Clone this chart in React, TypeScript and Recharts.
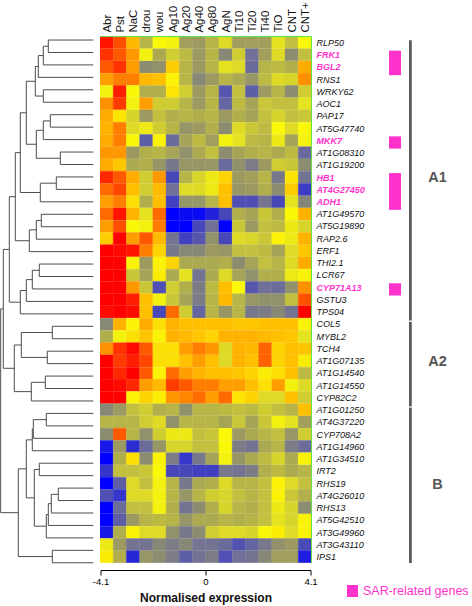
import React from "react";
import {
  Bar,
  BarChart,
  Cell,
  ComposedChart,
  ReferenceArea,
  Scatter,
  ScatterChart,
  XAxis,
  YAxis,
} from "recharts";

const conditions = ["Abr", "Pst", "NaC", "drou", "wou", "Ag10", "Ag20", "Ag40", "Ag80", "AgN", "Ti10", "Ti20", "Ti40", "TiO", "CNT", "CNT+"];

const genesA1 = ["RLP50", "FRK1", "BGL2", "RNS1", "WRKY62", "AOC1", "PAP17", "AT5G47740", "MKK7", "AT1G08310", "AT1G19200", "HB1", "AT4G27450", "ADH1", "AT1G49570", "AT5G19890", "RAP2.6", "ERF1", "THI2.1", "LCR67", "CYP71A13", "GSTU3", "TPS04"];
const genesA2 = ["COL5", "MYBL2", "TCH4", "AT1G07135", "AT1G14540", "AT1G14550", "CYP82C2"];
const genesB = ["AT1G01250", "AT4G37220", "CYP708A2", "AT1G14960", "AT1G34510", "IRT2", "RHS19", "AT4G26010", "RHS13", "AT5G42510", "AT3G49960", "AT3G43110", "IPS1"];

const sarGenes = ["FRK1", "BGL2", "MKK7", "HB1", "AT4G27450", "ADH1", "CYP71A13"];
const clusterNames = ["A1", "A2", "B"];

// normalised expression, one row per gene, columns follow `conditions`
const valuesA1 = [
  [3.9, 3.3, 2.0, 0.0, 1.0, 0.9, -0.4, -0.5, 0.0, 0.6, -0.4, -0.4, -0.4, 0.7, 0.2, 1.0],
  [3.6, 3.2, 2.5, 0.9, -0.2, 0.4, 0.1, -0.5, 0.0, -0.9, 0.4, -1.5, -0.4, 0.6, -0.8, 0.2],
  [3.2, 3.6, 2.4, -0.8, -0.7, 1.7, 0.0, -0.5, 0.0, 0.7, 0.6, -1.6, 0.0, 0.1, -0.1, 2.2],
  [2.4, 2.8, 2.8, 2.0, 1.9, 1.1, 0.0, -0.9, -0.5, 0.0, -0.2, -0.6, 0.1, 0.6, 0.5, 2.6],
  [0.9, 3.8, 1.0, -0.1, -0.1, 1.3, 0.4, -0.5, 0.0, -2.2, 0.2, -2.0, -0.5, 0.0, -0.8, 0.4],
  [2.6, 3.5, 0.9, 2.4, 0.4, 0.4, 0.0, -0.5, 0.0, -1.8, 0.1, -0.3, 0.3, 0.2, 0.2, 0.7],
  [2.2, 1.3, 0.5, -0.5, 0.2, -0.1, 0.0, -0.1, 0.0, -0.5, -0.1, -0.3, 0.2, 0.5, 0.2, 0.3],
  [2.1, 2.8, 0.6, 0.8, 0.4, 0.0, -0.6, -0.5, -0.1, -0.8, 0.6, 0.3, 0.1, 1.0, 0.6, 1.0],
  [2.2, 2.8, 1.0, -2.0, 1.1, -1.6, -0.3, 0.1, -0.4, 0.9, 0.7, 0.1, 0.0, 0.8, -0.3, 0.9],
  [2.5, 2.5, -0.5, -0.1, 0.0, -0.3, -0.7, -0.2, 0.2, -0.8, -0.3, -0.1, 0.0, -0.2, 0.1, -1.7],
  [2.2, 1.8, -0.2, -0.1, -0.6, -1.3, -0.6, -0.6, -0.6, -1.7, -0.7, -1.2, -0.5, 0.4, 0.3, -0.8],
  [3.7, 3.2, 2.2, 0.4, 2.5, -2.6, 0.0, 0.5, 0.8, 1.6, -0.5, -0.4, 0.0, -1.3, 1.3, -1.4],
  [3.0, 3.4, 1.9, 0.4, 2.0, -1.5, 0.6, 0.6, 0.8, 1.9, -0.6, -0.5, -0.1, -0.8, 1.7, -2.9],
  [2.4, 2.8, 1.4, -0.1, 1.9, -2.8, -0.6, -0.6, 0.0, 1.9, -2.4, -2.4, -1.4, -2.6, 0.7, -1.0],
  [3.0, 3.9, 2.1, 0.7, 3.0, -4.1, -3.9, -3.9, -3.4, -2.6, -0.1, -0.3, 0.3, -0.1, 1.0, 2.1],
  [2.4, 3.3, 1.0, 0.9, 2.8, -4.1, -4.1, -2.6, -1.5, -4.1, 0.3, -0.5, 0.2, 0.1, 0.8, 0.5],
  [1.7, 4.1, 2.4, 3.2, 2.0, -1.4, -2.8, -2.2, -0.7, -2.6, 0.6, 0.5, 0.3, 1.1, 0.8, 2.1],
  [4.1, 4.0, 3.9, 2.8, 1.6, -1.3, -0.9, -0.9, -0.5, -0.6, 0.2, 0.2, 0.1, -0.3, 0.6, 1.8],
  [4.1, 4.1, 1.1, -0.5, 1.1, 1.6, -0.2, -0.2, -0.2, -0.1, -0.8, -0.3, 0.2, 0.0, 0.6, 2.2],
  [4.1, 4.1, 0.3, -0.3, 1.2, -0.2, 0.7, -1.4, -0.2, 0.6, -0.3, -0.7, -0.1, -0.1, 0.8, 1.1],
  [4.1, 4.1, 2.5, 0.3, -2.4, 0.4, -0.1, -1.2, 0.1, 1.9, 1.0, -2.2, -1.5, -1.6, -0.7, 2.6],
  [4.1, 4.1, 3.8, 1.9, 0.9, 0.3, -0.3, -1.2, 0.0, 2.0, 0.0, -0.6, -0.7, -0.7, 0.2, 3.3],
  [4.0, 4.1, 4.0, 1.9, -2.6, 3.0, 0.4, -1.8, 0.0, -0.6, 0.0, -1.3, -1.2, -0.9, -1.4, 4.1],
];
const valuesA2 = [
  [-0.9, 2.1, 1.1, 2.2, 1.4, 2.1, 1.9, 1.9, 1.9, 1.9, 1.8, 1.8, 1.9, 1.9, 1.9, 1.1],
  [-0.1, 0.9, 1.4, 1.8, 1.1, 2.1, 2.0, 1.8, 1.6, 2.1, 2.1, 2.1, 2.0, 1.9, 1.8, 0.7],
  [2.6, 3.6, 4.0, 3.2, 1.4, 1.4, 2.4, 2.8, 2.5, 0.6, 2.1, 2.0, 3.1, 1.6, 1.9, 1.8],
  [4.1, 3.5, 3.8, 3.4, 1.4, 1.4, 1.9, 2.4, 1.9, 0.6, 2.1, 1.9, 3.1, 1.6, 1.9, 1.2],
  [4.1, 3.7, 4.1, 3.2, 1.1, 3.0, 2.4, 2.1, 1.9, 1.9, 1.8, 1.6, 1.2, 1.4, 1.9, 0.1],
  [4.1, 4.0, 3.7, 2.4, 2.0, 3.5, 3.2, 2.8, 2.8, 2.4, 2.4, 1.9, 1.4, 2.4, 0.9, 0.6],
  [4.1, 4.1, 1.1, 1.6, 1.2, 2.5, 2.7, 3.0, 2.4, 3.0, 1.3, 1.6, 0.6, 0.6, 1.9, 0.4],
];
const valuesB = [
  [-0.9, -0.5, 0.2, 0.4, -0.1, 0.0, -0.7, 0.0, 0.0, 0.1, 0.2, 0.1, 0.4, 0.2, 0.0, 1.9],
  [0.0, 0.0, 0.0, 0.4, 0.6, -0.7, 0.0, 0.0, 0.0, -0.3, 0.3, -0.3, 0.3, 0.9, 0.7, -0.4],
  [-0.8, 3.2, 0.0, -0.7, 0.4, 0.8, 0.8, 0.2, 0.3, 1.0, -0.5, -0.2, 0.0, 0.2, -0.6, 0.4],
  [-3.6, -0.5, -3.2, -1.6, -0.6, 0.5, 0.5, 0.2, 0.2, 1.0, -1.2, -1.4, -0.2, 0.0, -1.2, -1.6],
  [-4.1, -0.1, 1.4, -0.8, 1.1, -1.2, -3.0, -1.3, -0.3, 0.9, -0.6, -0.2, 0.1, 0.5, -0.2, 1.1],
  [-3.0, 0.2, 0.2, 0.3, 1.0, -2.6, -2.6, -2.8, -2.8, -1.3, -1.4, -1.2, -0.1, 0.1, -0.2, 0.0],
  [-4.1, -2.0, 0.6, 0.2, 0.9, 0.0, -1.3, -0.2, -0.1, 0.6, 0.0, 0.0, 0.2, 1.1, 0.6, 0.2],
  [-2.4, -3.0, 0.6, 0.6, 0.9, 0.0, -0.6, 0.0, 0.4, 0.5, 0.2, 0.0, 0.2, 1.1, 0.3, -0.1],
  [-4.1, -1.6, 0.2, 0.2, 0.9, -0.1, -1.4, -0.8, -0.1, 0.5, 0.0, -0.1, 0.2, 0.8, 0.5, -0.8],
  [-4.1, -2.0, -0.5, 0.0, 0.1, 0.0, -0.6, -0.2, -0.2, 0.0, -0.1, 0.0, 0.2, 0.7, 0.5, 1.1],
  [-3.6, -0.1, 1.1, 0.6, 0.6, -0.7, -1.3, -0.8, 0.4, 0.6, 0.6, 0.5, 1.0, 1.2, 0.6, 1.1],
  [0.8, -0.5, -1.4, -1.4, -0.9, -1.2, -0.9, -1.4, -1.4, -1.6, -2.3, -1.8, -1.3, -0.7, -0.5, -2.5],
  [1.2, -0.1, -3.3, -0.6, -0.8, -1.2, -2.0, -1.4, -1.2, -2.4, -1.5, -1.4, -0.9, -0.4, -0.4, -3.5],
];

// dendrogram merges: [child, child, height]; leaves are rows 0-42, merge k becomes node 43+k
const merges: [number, number, number][] = [
  [0, 1, 45], [43, 2, 50], [44, 3, 55], [4, 5, 50], [45, 46, 58],
  [6, 7, 43], [48, 8, 50], [9, 10, 33], [49, 50, 57], [47, 51, 67],
  [11, 12, 37], [53, 13, 53], [52, 54, 73], [14, 15, 52], [56, 16, 57],
  [57, 17, 64], [55, 58, 78], [18, 19, 54], [60, 20, 61], [61, 21, 67],
  [62, 22, 73], [59, 63, 84], [23, 24, 41], [25, 26, 46], [65, 66, 72],
  [27, 28, 48], [68, 29, 62], [67, 69, 79], [64, 70, 90], [30, 31, 47],
  [72, 32, 60], [73, 33, 61], [34, 35, 54], [36, 37, 35], [76, 38, 42],
  [77, 39, 45], [78, 40, 47], [75, 79, 59], [74, 80, 67], [41, 42, 41],
  [81, 82, 75], [71, 83, 92.6],
];

const scaleTicks = [-4.1, 0, 4.1];

const FONT = '"Liberation Sans", Arial, Helvetica, sans-serif';
const MAGENTA = "#FF33CC";
const GREEN = "#66E044";

const colorStops: [number, number[]][] = [
  [-4.1, [0, 0, 255]],
  [-2.8, [64, 64, 192]],
  [-1.5, [112, 112, 152]],
  [-0.8, [140, 140, 112]],
  [-0.3, [166, 164, 86]],
  [0.2, [194, 192, 62]],
  [0.6, [222, 218, 38]],
  [1.0, [250, 248, 8]],
  [1.9, [255, 192, 0]],
  [2.6, [255, 144, 0]],
  [3.3, [255, 80, 0]],
  [4.1, [255, 0, 0]],
];

function colorFor(v: number) {
  if (v <= colorStops[0][0]) return `rgb(${colorStops[0][1].join(",")})`;
  for (let i = 1; i < colorStops.length; i++) {
    const [v1, c1] = colorStops[i];
    const [v0, c0] = colorStops[i - 1];
    if (v <= v1) {
      const t = (v - v0) / (v1 - v0);
      const c = c0.map((a, k) => Math.round(a + (c1[k] - a) * t));
      return `rgb(${c.join(",")})`;
    }
  }
  return "rgb(255,0,0)";
}

const genes = [...genesA1, ...genesA2, ...genesB];
const values = [...valuesA1, ...valuesA2, ...valuesB];

const heatRows = genes.map((gene, i) => {
  const row: Record<string, string | number> = { gene };
  values[i].forEach((_, j) => (row[`c${j}`] = 1));
  return row;
});
const colTicks = conditions.map((_, j) => j + 0.5);

// dendrogram elbows
const nodePos = genes.map((_, i) => ({ h: 0, y: i }));
const elbows = merges.map(([a, b, h]) => {
  const A = nodePos[a];
  const B = nodePos[b];
  nodePos.push({ h, y: (A.y + B.y) / 2 });
  return [
    { x: A.h, y: A.y },
    { x: h, y: A.y },
    { x: h, y: B.y },
    { x: B.h, y: B.y },
  ];
});

// cluster ranges and SAR runs
const clusterSizes = [genesA1.length, genesA2.length, genesB.length];
const clusters = clusterNames.map((name, k) => {
  const first = clusterSizes.slice(0, k).reduce((s, n) => s + n, 0);
  const last = first + clusterSizes[k] - 1;
  return { name, first, last, x: 57.5, y: (first + last) / 2 };
});
const sarRuns: { first: number; last: number }[] = [];
genes.forEach((g, i) => {
  if (!sarGenes.includes(g)) return;
  const prev = sarRuns[sarRuns.length - 1];
  if (prev && prev.last === i - 1) prev.last = i;
  else sarRuns.push({ first: i, last: i });
});

const none = () => <g />;

function ColumnTick(props: any) {
  const { x, y, payload } = props;
  return (
    <text transform={`translate(${x + 4},${y}) rotate(-90)`} textAnchor="start" fontSize={11.5} fontFamily={FONT} fill="#111">
      {conditions[Math.floor(payload.value)]}
    </text>
  );
}

function GeneTick(props: any) {
  const { x, y, payload } = props;
  const sar = sarGenes.includes(payload.value);
  return (
    <text x={x} y={y} dy="0.35em" textAnchor="start" fontSize={9} fontStyle="italic" fontWeight={sar ? "bold" : "normal"} fontFamily={FONT} fill={sar ? MAGENTA : "#111"}>
      {payload.value}
    </text>
  );
}

export default function App() {
  return (
    <div style={{ position: "absolute", left: 0, top: 0, width: 472, height: 606, background: "#fff", fontFamily: FONT }}>
      {/* dendrogram */}
      <div style={{ position: "absolute", left: 0, top: 0 }}>
        <ScatterChart width={94} height={569} margin={{ top: 33.8, right: 0.7, bottom: 0, left: 0.7 }}>
          <XAxis type="number" dataKey="x" domain={[0, 92.6]} reversed hide />
          <YAxis type="number" dataKey="y" domain={[-0.5, 42.5]} reversed hide />
          {elbows.map((pts, k) => (
            <Scatter key={k} data={pts} line={{ stroke: "#4d4d4d", strokeWidth: 1 }} stroke="#4d4d4d" shape={none} isAnimationActive={false} legendType="none" />
          ))}
        </ScatterChart>
      </div>

      {/* heatmap */}
      <div style={{ position: "absolute", left: 100, top: 0 }}>
        <BarChart layout="vertical" width={300} height={563} data={heatRows} margin={{ top: 0, right: 0, bottom: 0, left: 0 }} barCategoryGap={0} barGap={0}>
          {conditions.map((c, j) => (
            <Bar key={c} dataKey={`c${j}`} stackId="hm" isAnimationActive={false}>
              {genes.map((g, i) => {
                const fill = colorFor(values[i][j]);
                return <Cell key={g} fill={fill} stroke={fill} strokeWidth={0.4} />;
              })}
            </Bar>
          ))}
          <XAxis type="number" orientation="top" domain={[0, 16]} ticks={colTicks} interval={0} height={36.6} tickSize={0} tickMargin={4} axisLine={{ stroke: GREEN }} tick={(p: any) => <ColumnTick {...p} />} />
          <YAxis type="category" dataKey="gene" orientation="right" width={88.5} interval={0} tickSize={0} tickMargin={5} axisLine={{ stroke: GREEN }} tick={(p: any) => <GeneTick {...p} />} />
        </BarChart>
      </div>

      {/* SAR markers and cluster bars */}
      <div style={{ position: "absolute", left: 380, top: 0 }}>
        <ScatterChart width={92} height={563} margin={{ top: 36.6, right: 0, bottom: 0, left: 0 }}>
          <XAxis type="number" dataKey="x" domain={[0, 92]} hide />
          <YAxis type="number" dataKey="y" domain={[-0.5, 42.5]} reversed hide />
          {sarRuns.map((r) => (
            <ReferenceArea key={r.first} x1={9} x2={21} y1={r.first - 0.5 + 0.15} y2={r.last + 0.5 + 0.15} fill={MAGENTA} fillOpacity={1} stroke="none" ifOverflow="visible" />
          ))}
          {clusters.map((c) => (
            <ReferenceArea key={c.name} x1={29} x2={31.8} y1={c.first - 0.5 + 0.3} y2={c.last + 0.5 + 0.2} fill="#5c5c5c" fillOpacity={1} stroke="none" ifOverflow="visible" />
          ))}
          <Scatter
            data={clusters}
            isAnimationActive={false}
            shape={(p: any) => (
              <text x={p.cx} y={p.cy} dy="0.35em" textAnchor="middle" fontSize={14.5} fontWeight="bold" fontFamily={FONT} fill="#555">
                {p.payload.name}
              </text>
            )}
          />
        </ScatterChart>
      </div>

      {/* colour scale */}
      <div style={{ position: "absolute", left: 80, top: 564 }}>
        <ComposedChart width={252} height={42} data={scaleTicks.map((v) => ({ v }))} margin={{ top: 3, right: 21, bottom: 0, left: 21 }}>
          <defs>
            <linearGradient id="exprScale" x1="0" y1="0" x2="1" y2="0">
              {colorStops.map(([v, c]) => (
                <stop key={v} offset={(v + 4.1) / 8.2} stopColor={`rgb(${c.join(",")})`} />
              ))}
            </linearGradient>
          </defs>
          <XAxis
            type="number"
            dataKey="v"
            domain={[-4.1, 4.1]}
            ticks={scaleTicks}
            interval={0}
            height={35.5}
            tickSize={5}
            tickMargin={3}
            axisLine={{ stroke: "#000" }}
            tickLine={{ stroke: "#000" }}
            tick={{ fontSize: 9.5, fill: "#000", fontFamily: FONT }}
            label={{ value: "Normalised expression", position: "insideBottom", offset: 4, fontSize: 12, fontWeight: "bold", fill: "#111", fontFamily: FONT }}
          />
          <YAxis type="number" domain={[0, 1]} hide />
          <ReferenceArea x1={-4.1} x2={4.1} y1={0} y2={1} fill="url(#exprScale)" fillOpacity={1} stroke="none" />
        </ComposedChart>
      </div>

      {/* legend */}
      <div style={{ position: "absolute", left: 347, top: 585, display: "flex", alignItems: "center", gap: 5 }}>
        <div style={{ width: 11, height: 11.5, background: MAGENTA }} />
        <span style={{ color: MAGENTA, fontSize: 12.5, lineHeight: "12px" }}>SAR-related genes</span>
      </div>
    </div>
  );
}
